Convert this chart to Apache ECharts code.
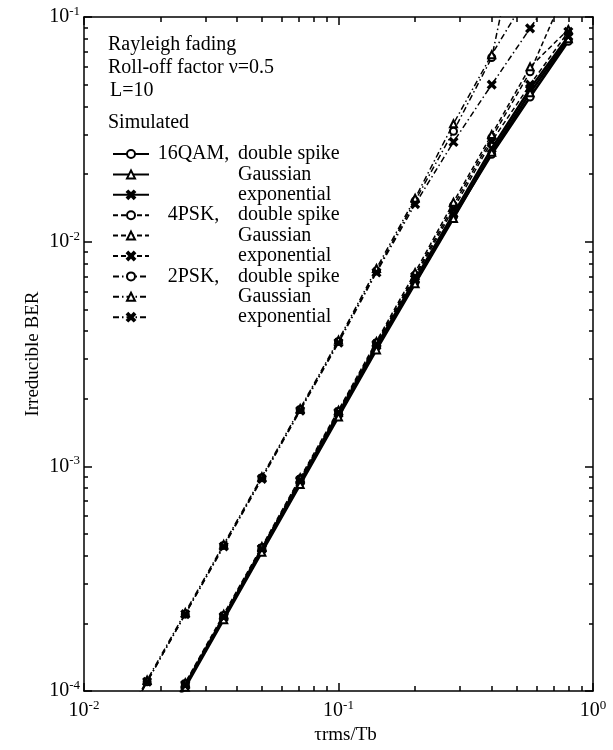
<!DOCTYPE html>
<html>
<head>
<meta charset="utf-8">
<script src="https://cdn.jsdelivr.net/npm/echarts@6/dist/echarts.min.js"></script>
<style>
  html, body { margin: 0; padding: 0; background: #fff; }
  #chart { width: 613px; height: 750px; }
</style>
</head>
<body>
<div id="chart"></div>
<script>
// Delay spread normalised to the bit duration (tau_rms / Tb)
const tauRatio = [0.0125, 0.0177, 0.025, 0.0354, 0.05, 0.0707, 0.1, 0.141, 0.2, 0.283, 0.4, 0.566, 0.8];

// Irreducible BER, 16QAM
const qam16DoubleSpike = [null, 5.3e-5, 1.06e-4, 2.12e-4, 4.25e-4, 8.5e-4, 1.70e-3, 3.40e-3, 6.6e-3, 1.29e-2, 2.45e-2, 4.4e-2, 7.8e-2];
const qam16Gaussian    = [null, 5.2e-5, 1.04e-4, 2.08e-4, 4.15e-4, 8.3e-4, 1.66e-3, 3.30e-3, 6.5e-3, 1.27e-2, 2.50e-2, 4.6e-2, 8.0e-2];
const qam16Exponential = [null, 5.3e-5, 1.06e-4, 2.13e-4, 4.30e-4, 8.6e-4, 1.72e-3, 3.45e-3, 6.8e-3, 1.33e-2, 2.60e-2, 4.8e-2, 8.2e-2];

// Irreducible BER, 4PSK
const psk4DoubleSpike  = [null, 5.4e-5, 1.08e-4, 2.17e-4, 4.35e-4, 8.8e-4, 1.76e-3, 3.55e-3, 7.1e-3, 1.45e-2, 2.90e-2, 5.7e-2, 0.14];
const psk4Gaussian     = [null, 5.5e-5, 1.09e-4, 2.20e-4, 4.40e-4, 8.9e-4, 1.78e-3, 3.60e-3, 7.3e-3, 1.50e-2, 3.00e-2, 6.0e-2, 8.8e-2];
const psk4Exponential  = [null, 5.4e-5, 1.07e-4, 2.15e-4, 4.30e-4, 8.7e-4, 1.74e-3, 3.50e-3, 7.0e-3, 1.40e-2, 2.80e-2, 5.0e-2, 8.6e-2];

// Irreducible BER, 2PSK
const psk2DoubleSpike  = [5.5e-5, 1.10e-4, 2.20e-4, 4.45e-4, 8.9e-4, 1.79e-3, 3.60e-3, 7.4e-3, 1.52e-2, 3.10e-2, 0.066, 0.43, null];
const psk2Gaussian     = [5.6e-5, 1.12e-4, 2.24e-4, 4.50e-4, 9.0e-4, 1.81e-3, 3.65e-3, 7.6e-3, 1.56e-2, 3.35e-2, 0.068, 0.13, null];
const psk2Exponential  = [5.5e-5, 1.10e-4, 2.20e-4, 4.40e-4, 8.8e-4, 1.77e-3, 3.55e-3, 7.3e-3, 1.47e-2, 2.78e-2, 0.050, 0.089, 0.16];

// Axis decades (major ticks / labels)
const xDecades = [0.01, 0.1, 1];
const yDecades = [1e-4, 1e-3, 1e-2, 1e-1];

// Text block in the upper-left corner
const conditionLines = ['Rayleigh fading', 'Roll-off factor \u03bd=0.5', 'L=10'];
const legendHeading = 'Simulated';

// Legend captions: modulation prefix shown only on the first row of each group
const legendPrefix = ['16QAM, ', '', '', '4PSK, ', '', '', '2PSK, ', '', ''];
const legendCaption = ['double spike', 'Gaussian', 'exponential', 'double spike', 'Gaussian', 'exponential', 'double spike', 'Gaussian', 'exponential'];
const seriesNames = ['16QAM double spike', '16QAM Gaussian', '16QAM exponential',
                     '4PSK double spike', '4PSK Gaussian', '4PSK exponential',
                     '2PSK double spike', '2PSK Gaussian', '2PSK exponential'];

const FONT = '"Liberation Serif", "Times New Roman", serif';
const CROSS = 'path://M0,1.6L1.6,0L5,3.4L8.4,0L10,1.6L6.6,5L10,8.4L8.4,10L5,6.6L1.6,10L0,8.4L3.4,5Z';

const solid = 'solid';
const dashed = [5, 3];
const dashDot = [6, 3, 1.5, 3];

const seriesValues = [qam16DoubleSpike, qam16Gaussian, qam16Exponential,
                      psk4DoubleSpike, psk4Gaussian, psk4Exponential,
                      psk2DoubleSpike, psk2Gaussian, psk2Exponential];
const seriesSymbols = ['emptyCircle', 'emptyTriangle', CROSS];
const seriesDash = [solid, dashed, dashDot];
const seriesWidth = [2.5, 1.5, 1.5];

// Minor tick positions (2..9 in each decade), expressed as log10 values
function minorTicksLog(decades) {
  const out = [];
  for (let d = 0; d < decades.length - 1; d++) {
    for (let k = 2; k <= 9; k++) out.push(Math.log10(decades[d] * k));
  }
  return out;
}
const xMinorLog = minorTicksLog(xDecades);
const yMinorLog = minorTicksLog(yDecades);
const xLogRange = [Math.log10(xDecades[0]), Math.log10(xDecades[xDecades.length - 1])];
const yLogRange = [Math.log10(yDecades[0]), Math.log10(yDecades[yDecades.length - 1])];

const powLabel = function (v) {
  const e = Math.round(Math.log10(v));
  return '{b|10}{s|' + e + '}';
};
const powRich = {
  b: { fontFamily: FONT, fontSize: 20, lineHeight: 24, color: '#000' },
  s: { fontFamily: FONT, fontSize: 13, lineHeight: 6, verticalAlign: 'top', color: '#000' }
};

const lineBlack = { color: '#000', width: 1.5 };

function blankAxis(extra) {
  return Object.assign({
    splitLine: { show: false },
    axisLine: { show: false, onZero: false },
    axisTick: { show: false },
    axisLabel: { show: false },
    minorTick: { show: false },
    minorSplitLine: { show: false }
  }, extra);
}

// Minor ticks live on linear axes spanning the same log10 range as the data axes
const xAxes = [
  blankAxis({
    type: 'log', logBase: 10,
    min: xDecades[0], max: xDecades[xDecades.length - 1], position: 'bottom',
    axisLine: { show: true, onZero: false, lineStyle: lineBlack },
    axisTick: { show: true, inside: true, length: 8, lineStyle: lineBlack },
    axisLabel: { show: true, formatter: powLabel, rich: powRich, margin: 8 },
    name: '\u03c4rms/Tb', nameLocation: 'middle', nameGap: 30,
    nameTextStyle: { fontFamily: FONT, fontSize: 19, color: '#000', padding: [0, 0, 0, 14] }
  }),
  blankAxis({
    type: 'log', logBase: 10,
    min: xDecades[0], max: xDecades[xDecades.length - 1], position: 'top',
    axisLine: { show: true, onZero: false, lineStyle: lineBlack },
    axisTick: { show: true, inside: true, length: 8, lineStyle: lineBlack }
  }),
  blankAxis({
    type: 'value', min: xLogRange[0], max: xLogRange[1], position: 'bottom',
    axisTick: { show: true, inside: true, length: 5, lineStyle: lineBlack, customValues: xMinorLog }
  }),
  blankAxis({
    type: 'value', min: xLogRange[0], max: xLogRange[1], position: 'top',
    axisTick: { show: true, inside: true, length: 5, lineStyle: lineBlack, customValues: xMinorLog }
  })
];

const yAxes = [
  blankAxis({
    type: 'log', logBase: 10,
    min: yDecades[0], max: yDecades[yDecades.length - 1], position: 'left',
    axisLine: { show: true, onZero: false, lineStyle: lineBlack },
    axisTick: { show: true, inside: true, length: 8, lineStyle: lineBlack },
    axisLabel: { show: true, formatter: powLabel, rich: powRich, margin: 4 },
    name: 'Irreducible BER', nameLocation: 'middle', nameGap: 41, nameMoveOverlap: false,
    nameTextStyle: { fontFamily: FONT, fontSize: 19, color: '#000' }
  }),
  blankAxis({
    type: 'log', logBase: 10,
    min: yDecades[0], max: yDecades[yDecades.length - 1], position: 'right',
    axisLine: { show: true, onZero: false, lineStyle: lineBlack },
    axisTick: { show: true, inside: true, length: 8, lineStyle: lineBlack }
  }),
  blankAxis({
    type: 'value', min: yLogRange[0], max: yLogRange[1], position: 'left',
    axisTick: { show: true, inside: true, length: 4, lineStyle: lineBlack, customValues: yMinorLog }
  }),
  blankAxis({
    type: 'value', min: yLogRange[0], max: yLogRange[1], position: 'right',
    axisTick: { show: true, inside: true, length: 4, lineStyle: lineBlack, customValues: yMinorLog }
  })
];

const series = seriesValues.map(function (vals, i) {
  const g = Math.floor(i / 3), k = i % 3;
  return {
    type: 'line',
    name: seriesNames[i],
    xAxisIndex: 0, yAxisIndex: 0,
    data: tauRatio.map(function (x, j) { return [x, vals[j]]; })
                  .filter(function (p) { return p[1] != null; }),
    symbol: seriesSymbols[k],
    symbolSize: k === 2 ? 8 : 7,
    lineStyle: { color: '#000', width: seriesWidth[g], type: seriesDash[g] },
    itemStyle: { color: '#000', borderColor: '#000', borderWidth: 1.5 },
    clip: true,
    z: 3
  };
});

const graphics = conditionLines.map(function (t, i) {
  return {
    type: 'text', x: i === 2 ? 110 : 108, y: [44.5, 67.5, 90.5][i],
    style: { text: t, font: '20px ' + FONT, fill: '#000', verticalAlign: 'middle' }
  };
});
graphics.push({
  type: 'text', x: 108, y: 122.5,
  style: { text: legendHeading, font: '20px ' + FONT, fill: '#000', verticalAlign: 'middle' }
});

const chart = echarts.init(document.getElementById('chart'), null, { renderer: 'canvas' });
chart.setOption({
  animation: false,
  backgroundColor: '#fff',
  grid: { left: 84, right: 20, top: 17, bottom: 58 },
  xAxis: xAxes,
  yAxis: yAxes,
  legend: {
    orient: 'vertical',
    left: 112, top: 144,
    padding: 0,
    itemGap: 0.4,
    itemWidth: 36, itemHeight: 10,
    selectedMode: false,
    data: seriesNames,
    formatter: function (name) {
      const i = seriesNames.indexOf(name);
      return '{p|' + legendPrefix[i] + '}{t|' + legendCaption[i] + '}';
    },
    textStyle: {
      fontFamily: FONT, fontSize: 20, lineHeight: 19, color: '#000',
      rich: {
        p: { fontFamily: FONT, fontSize: 20, lineHeight: 19, width: 84, align: 'right', color: '#000' },
        t: { fontFamily: FONT, fontSize: 20, lineHeight: 19, color: '#000' }
      }
    }
  },
  graphic: graphics,
  series: series
});
</script>
</body>
</html>
